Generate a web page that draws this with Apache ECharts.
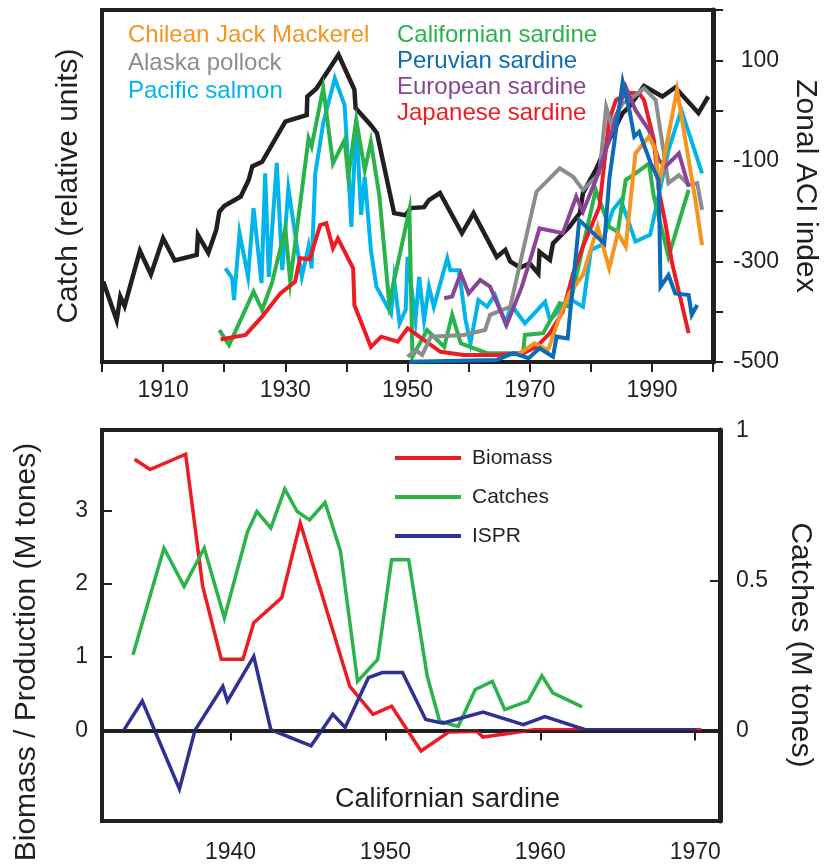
<!DOCTYPE html>
<html>
<head>
<meta charset="utf-8">
<script src="https://cdn.jsdelivr.net/npm/echarts@6/dist/echarts.min.js"></script>
<style>
html, body { margin: 0; padding: 0; background: #fff; }
#main { width: 828px; height: 864px; }
</style>
</head>
<body>
<div id="main"></div>
<script>
// ---- top panel: catches (relative units) and zonal ACI ----
var aciYears = [1900.2,1902.4,1903,1903.7,1906.2,1908,1910,1911.9,1915.5,1915.7,1917.4,1918.7,1919.2,1920,1922.7,1924,1924.6,1926.2,1930,1931.3,1933.5,1933.6,1935.1,1938.7,1941.3,1941.5,1944,1945,1947.8,1949.7,1950.5,1952.7,1953.5,1955.3,1958.9,1960.8,1964.6,1966,1966.8,1968.4,1970,1971.4,1971.6,1973.3,1973.8,1976.5,1978.2,1978.7,1980.8,1983,1985.2,1986.3,1988.7,1991.7,1993.8,1997.6,1999.2];
var aciValues = [-340,-417,-370,-389,-279,-326,-254,-298,-287,-247,-283,-237,-201,-190,-171,-138,-111,-102,-22,-17,-9,28,44,111,42,5,-29,-45,-204,-208,-194,-192,-178,-164,-244,-204,-291,-277,-300,-312,-304,-324,-281,-297,-264,-231,-204,-164,-118,-58,-5,8,49,28,46,-5,28];

var salmonYears = [1920.2,1921.3,1921.6,1922.5,1923.9,1924.8,1926.1,1926.7,1927.3,1928.6,1929.5,1930.5,1931.9,1932.7,1933.8,1934.3,1934.9,1936.2,1938.1,1939.7,1940.3,1940.8,1941.6,1942.4,1943,1944,1944.9,1947.3,1947.8,1948.7,1949.7,1950,1951.3,1951.9,1952.7,1953.5,1954.3,1956.5,1957,1958.4,1959.5,1960.3,1961.6,1963,1964.3,1966,1967,1969.2,1972.5,1973.3,1974.6,1975.4,1976.5,1978.7,1980,1981.7,1983.6,1984.9,1987.3,1989.7,1992.7,1994.8,1998.2];
var salmonCatch = [26.6,23.8,17.6,36.7,24.2,43.7,22.4,53.6,24.2,56.6,26.1,49.3,32.8,24.2,32.8,26.6,53.6,67.8,80.6,73,55.5,38.4,68.8,41.8,52.6,31.8,21.4,13.8,23.3,11,14.8,29.9,11.9,24.2,11.9,21.4,15.7,29.5,26.1,26.1,11.9,5.3,17.6,15.7,19,11,16.2,11,17.1,11.9,14.3,16.2,18,15.7,31.8,33.2,43.2,46,34.2,36.1,60.2,71.6,53.6];

var calYears = [1919.2,1920.8,1924.8,1926.2,1927.8,1930,1930.8,1933.8,1934.3,1936.2,1937.8,1939.7,1940.3,1941.6,1943,1944,1945.4,1947,1950.3,1950.8,1953.2,1956,1957.3,1958.7,1963,1968.9,1969.2,1972.2,1974.9,1976.5,1978.7,1980.8,1983,1984.4,1985.7,1987.3,1989.5,1990.3,1992.7,1996];
var calCatch = [9.1,4.8,20,14.8,22.4,38,22.8,63.6,61.2,77.8,56.4,63.1,52.6,68.8,54.5,62.6,47,16.7,43.2,1.5,9.1,4.3,13.4,5.3,2.5,2.5,7.7,8.2,16.7,15.7,32.8,48.9,38.4,37,51.7,53.6,56.4,47,29.9,48.9];

var japYears = [1919.4,1923.5,1926.2,1929.2,1931.6,1932.4,1934,1935.7,1936.7,1937.8,1938.6,1941.1,1941.3,1944,1945.7,1948.4,1950,1950.3,1955.4,1959.2,1964.6,1968.9,1971.1,1973.3,1975.4,1977.1,1978.7,1981.4,1983,1984.1,1986.2,1987.9,1988.7,1990.3,1991.1,1992.2,1993.3,1996];
var japCatch = [6.4,7.7,12.9,19.5,22.8,29.5,29.2,38.9,39.4,32.3,35.1,26.6,16.2,4.3,7.2,5.8,9.6,10,2.9,2,2,2.5,4.3,8.2,14.3,25.2,32.8,44.1,68.8,74.4,76.5,76.3,74.4,63.1,48.9,39.4,28,8.2];

var pollockYears = [1950,1951.3,1952.4,1953.8,1959.2,1962.7,1963.5,1966.8,1971.1,1974.9,1977.1,1978.7,1981.4,1982.5,1983.3,1985.2,1986.3,1988.7,1990.6,1992.7,1994.4,1996,1997.4,1998.2];
var pollockCatch = [1.5,3.4,2,7.2,7.7,9.1,13.4,15.7,48.4,55,52.6,48.9,53.6,72.5,67.8,73.5,74.4,77.8,74.4,50.8,53.1,50.3,50.8,43.2];

var eurYears = [1956,1957.3,1958.7,1960,1961.9,1963.5,1966.2,1968.7,1970.3,1971.6,1975.4,1977.6,1978.7,1980.8,1983,1985.7,1987.3,1989.5,1991.1,1992.2,1994.4,1996];
var eurCatch = [18.1,18.6,25.2,19.5,23.3,21.4,10.5,21.4,30.4,38,36.6,47,42.7,51.7,63.1,78.2,71.6,65.9,57.4,55.5,59.3,49.8];

var mackerelYears = [1967.9,1970.8,1973,1974.9,1976.5,1978.7,1981.1,1983,1984.4,1985.7,1987.3,1989.5,1990.6,1991.1,1994.1,1997.1,1998.2];
var mackerelCatch = [2,5.3,3.4,12.9,19.5,24.7,38.4,26.6,36.6,32.8,59.3,64,60.2,49.8,77.3,46,33.2];

var peruYears = [1950.3,1964.6,1967.3,1969.8,1971.6,1973.8,1974.4,1976.2,1978.1,1982.2,1983,1985.2,1986.3,1987.1,1987.9,1989.8,1991.1,1991.4,1992.7,1993.8,1996,1996.5,1997.4];
var peruCatch = [0.1,0.6,2.5,1.1,3.9,1.5,7.2,6.7,40.3,33.7,51.7,79.6,71.6,64,65.4,56.4,51.7,21.4,24.7,19.5,19,13.4,16.2];

// ---- bottom panel: Californian sardine ----
var biomassYears = [1933.8,1934.8,1937.1,1938.2,1939.4,1940.8,1941.5,1943.3,1944.5,1947.7,1949.2,1950.4,1952.3,1954.1,1955.9,1956.3,1959.6,1962.8,1970.4];
var biomass = [3.70,3.56,3.77,1.97,0.97,0.97,1.47,1.81,2.83,0.60,0.22,0.33,-0.28,-0.02,-0.01,-0.09,0.01,0.01,0.01];

var catchYears = [1933.7,1935.7,1937,1938.3,1939.6,1941.1,1941.7,1942.6,1943.5,1944.3,1945.1,1946.1,1947.1,1948.2,1949.5,1950.4,1951.5,1952.7,1953.5,1954.7,1955.8,1956.9,1957.7,1959.2,1960.1,1960.8,1962.7];
var catches = [0.253,0.609,0.481,0.609,0.376,0.664,0.731,0.676,0.806,0.731,0.703,0.761,0.598,0.164,0.237,0.57,0.57,0.181,0.031,0.014,0.137,0.164,0.07,0.098,0.183,0.126,0.079];

var isprYears = [1933.1,1934.3,1936.7,1937.7,1939.5,1939.8,1941.5,1942.6,1945.2,1946.6,1947.4,1948.9,1949.8,1951.1,1952.6,1953.7,1956.3,1958.9,1960.3,1962.9,1970.1];
var ispr = [0,0.40,-0.80,0,0.60,0.40,1.01,0.01,-0.21,0.22,0.04,0.72,0.79,0.79,0.15,0.10,0.25,0.08,0.19,0.01,0.01];

var bottomYearTicks = [1940, 1950, 1960, 1970];
var leftTicks = [0, 1, 2, 3];
var rightTicks = [0, 0.5, 1];

var FONT = '"Liberation Sans", Arial, Helvetica, sans-serif';
var INK = '#231f20';

function pairs(xs, ys){
    var out = [];
    for(var i = 0; i < xs.length; i++){
        out.push([xs[i], ys[i]]);
    }
    return out;
}

function line(name, color, xs, ys, xIdx, yIdx, width){
    return {
        name: name,
        type: 'line',
        xAxisIndex: xIdx,
        yAxisIndex: yIdx,
        data: pairs(xs, ys),
        symbol: 'none',
        silent: true,
        lineStyle: { color: color, width: width, join: 'miter' },
        itemStyle: { color: color }
    };
}

var myChart = echarts.init(document.getElementById('main'));

var ispLine = line('ISPR', '#2e3192', isprYears, ispr, 1, 2, 3.5);
ispLine.markLine = {
    silent: true,
    symbol: ['none', 'none'],
    label: { show: false },
    lineStyle: { color: INK, width: 1.5, type: 'solid' },
    data: [{ yAxis: 0 }]
};

var option = {
    animation: false,
    textStyle: { fontFamily: FONT, color: INK },
    grid: [
        { left: 102, top: 10, width: 616, height: 352, show: true, borderColor: INK, borderWidth: 4 },
        { left: 102, top: 430, width: 618, height: 392, show: true, borderColor: INK, borderWidth: 4 }
    ],
    legend: [
        {
            orient: 'vertical', left: 117, top: 18, itemWidth: 0, itemHeight: 0, itemGap: 3,
            selectedMode: false,
            textStyle: { fontSize: 24, lineHeight: 25, fontFamily: FONT },
            data: [
                { name: 'Chilean Jack Mackerel', textStyle: { color: '#f7941d' } },
                { name: 'Alaska pollock', textStyle: { color: '#8a8c8e' } },
                { name: 'Pacific salmon', textStyle: { color: '#00b4ec' } }
            ]
        },
        {
            orient: 'vertical', left: 386, top: 18, itemWidth: 0, itemHeight: 0, itemGap: 1,
            selectedMode: false,
            textStyle: { fontSize: 24, lineHeight: 25, fontFamily: FONT },
            data: [
                { name: 'Californian sardine', textStyle: { color: '#2bb34b' } },
                { name: 'Peruvian sardine', textStyle: { color: '#0a6cb8' } },
                { name: 'European sardine', textStyle: { color: '#8b4397' } },
                { name: 'Japanese sardine', textStyle: { color: '#ed1c24' } }
            ]
        },
        {
            orient: 'vertical', left: 390, top: 441, icon: 'rect', itemWidth: 66, itemHeight: 4, itemGap: 15,
            selectedMode: false,
            textStyle: { fontSize: 21, lineHeight: 24, color: INK, fontFamily: FONT, padding: [0, 0, 0, 6] },
            data: ['Biomass', 'Catches', 'ISPR']
        }
    ],
    xAxis: [
        {
            gridIndex: 0, type: 'value', min: 1900, max: 2000, interval: 10,
            axisLine: { show: true, lineStyle: { color: INK, width: 4 } },
            axisTick: { show: true, length: 10, lineStyle: { color: INK, width: 2 } },
            axisLabel: {
                fontSize: 23, color: INK, margin: 17,
                formatter: function(v){ return (Math.round(v / 10) % 2 === 1) ? String(v) : ''; }
            },
            splitLine: { show: false }
        },
        {
            gridIndex: 1, type: 'value', min: 1931.7, max: 1971.6,
            axisLine: { show: true, lineStyle: { color: INK, width: 4 } },
            axisTick: { show: true, length: 10, customValues: bottomYearTicks, lineStyle: { color: INK, width: 2 } },
            axisLabel: {
                fontSize: 23, color: INK, margin: 20, customValues: bottomYearTicks,
                formatter: function(v){ return String(Math.round(v)); }
            },
            splitLine: { show: false }
        }
    ],
    yAxis: [
        {
            gridIndex: 0, type: 'value', position: 'left', min: 0, max: 100,
            name: 'Catch (relative units)', nameLocation: 'middle', nameGap: 18,
            nameTextStyle: { fontSize: 30, color: INK, fontFamily: FONT },
            axisLine: { show: true, lineStyle: { color: INK, width: 4 } },
            axisTick: { show: false },
            axisLabel: { show: false },
            splitLine: { show: false }
        },
        {
            gridIndex: 0, type: 'value', position: 'right', min: -500, max: 200, interval: 100,
            name: 'Zonal ACI index', nameLocation: 'middle', nameRotate: -90, nameGap: 72,
            nameTextStyle: { fontSize: 30, color: INK, fontFamily: FONT },
            axisLine: { show: true, lineStyle: { color: INK, width: 5 } },
            axisTick: { show: true, length: 10, lineStyle: { color: INK, width: 2 } },
            axisLabel: {
                fontSize: 23, color: INK, margin: 66, align: 'right',
                formatter: function(v){ return (Math.abs(v) % 200 === 100) ? String(v) : ''; }
            },
            splitLine: { show: false }
        },
        {
            gridIndex: 1, type: 'value', position: 'left', min: -1.236, max: 4.1,
            axisLine: { show: true, lineStyle: { color: INK, width: 4 } },
            axisTick: { show: true, inside: true, length: 10, customValues: leftTicks, lineStyle: { color: INK, width: 2 } },
            axisLabel: { fontSize: 23, color: INK, margin: 14, customValues: leftTicks },
            splitLine: { show: false }
        },
        {
            gridIndex: 1, type: 'value', position: 'right', min: -0.302, max: 1.003,
            axisLine: { show: true, lineStyle: { color: INK, width: 5 } },
            axisTick: { show: true, inside: true, length: 10, customValues: rightTicks, lineStyle: { color: INK, width: 2 } },
            axisLabel: { fontSize: 23, color: INK, margin: 16, customValues: rightTicks },
            splitLine: { show: false }
        }
    ],
    graphic: [
        {
            type: 'text', x: 335, y: 800,
            style: { text: 'Californian sardine', fontSize: 27, fontFamily: FONT, fill: INK, align: 'left', verticalAlign: 'middle' }
        },
        {
            type: 'text', x: 27, y: 652, rotation: Math.PI / 2,
            style: { text: 'Biomass / Production (M tones)', fontSize: 30, fontFamily: FONT, fill: INK, align: 'center', verticalAlign: 'middle' }
        },
        {
            type: 'text', x: 800, y: 645, rotation: -Math.PI / 2,
            style: { text: 'Catches (M tones)', fontSize: 30, fontFamily: FONT, fill: INK, align: 'center', verticalAlign: 'middle' }
        }
    ],
    series: [
        line('Zonal ACI index', INK, aciYears, aciValues, 0, 1, 4.5),
        line('Pacific salmon', '#00b4ec', salmonYears, salmonCatch, 0, 0, 4),
        line('Californian sardine', '#2bb34b', calYears, calCatch, 0, 0, 4),
        line('Japanese sardine', '#ed1c24', japYears, japCatch, 0, 0, 4),
        line('Alaska pollock', '#8a8c8e', pollockYears, pollockCatch, 0, 0, 4),
        line('European sardine', '#8b4397', eurYears, eurCatch, 0, 0, 4),
        line('Chilean Jack Mackerel', '#f7941d', mackerelYears, mackerelCatch, 0, 0, 4),
        line('Peruvian sardine', '#0a6cb8', peruYears, peruCatch, 0, 0, 4),
        line('Biomass', '#ed1c24', biomassYears, biomass, 1, 2, 3.5),
        line('Catches', '#2bb34b', catchYears, catches, 1, 3, 3.5),
        ispLine
    ]
};

myChart.setOption(option);
</script>
</body>
</html>
